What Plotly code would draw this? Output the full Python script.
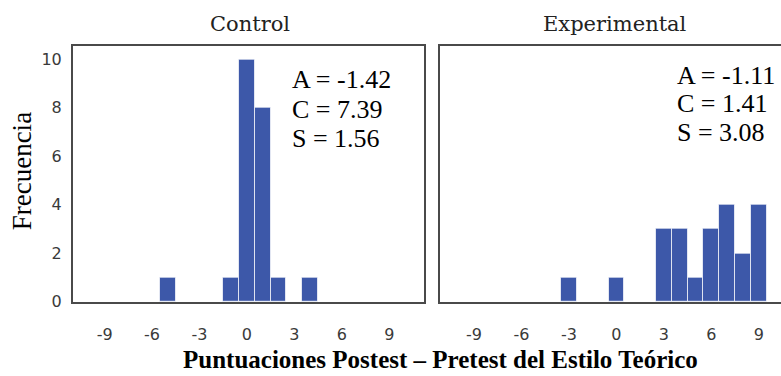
import plotly.graph_objects as go

# ---- data ----
bins_control = [-5, -1, 0, 1, 2, 4]
counts_control = [1, 1, 10, 8, 1, 1]
bins_exp = [-3, 0, 3, 4, 5, 6, 7, 8, 9]
counts_exp = [1, 1, 3, 3, 1, 3, 4, 2, 4]
x_ticks = [-9, -6, -3, 0, 3, 6, 9]
y_ticks = [0, 2, 4, 6, 8, 10]
panel_titles = ["Control", "Experimental"]
stats_control = ["A = -1.42", "C = 7.39", "S = 1.56"]
stats_exp = ["A = -1.11", "C = 1.41", "S = 3.08"]
x_title = "Puntuaciones Postest – Pretest del Estilo Teórico"
y_title = "Frecuencia"

W, H = 781, 376
BAR = "#3D58A9"
FRAME = "#4a4a4a"

def px_x(p):
    return p / W

def px_y(p):
    return 1 - p / H

fig = go.Figure()
fig.add_trace(go.Bar(x=bins_control, y=counts_control, width=1, xaxis="x", yaxis="y",
                     marker=dict(color=BAR, line=dict(color="rgba(255,255,255,0.7)", width=1))))
fig.add_trace(go.Bar(x=bins_exp, y=counts_exp, width=1, xaxis="x2", yaxis="y2",
                     marker=dict(color=BAR, line=dict(color="rgba(255,255,255,0.7)", width=1))))

tickfont = dict(family="DejaVu Sans", size=16, color="#3a3a3a")
ydom = [px_y(310), px_y(47)]

common_x = dict(tickvals=x_ticks, ticktext=[str(v) for v in x_ticks], showgrid=False, zeroline=False,
                showline=True, linecolor=FRAME, linewidth=2, mirror=True,
                ticks="outside", ticklen=14, tickcolor="rgba(0,0,0,0)", tickfont=tickfont,
                ticklabelstandoff=3)

fig.update_layout(
    width=W, height=H, margin=dict(l=0, r=0, t=0, b=0),
    plot_bgcolor="white", paper_bgcolor="white", showlegend=False, bargap=0,
    xaxis=dict(domain=[px_x(73), px_x(424)], range=[-11.0, 11.2], anchor="y", **common_x),
    yaxis=dict(domain=ydom, range=[0, 10.56], anchor="x", tickvals=y_ticks,
               showgrid=False, zeroline=False, showline=True, linecolor=FRAME, linewidth=2, mirror=True,
               ticks="outside", ticklen=6, tickcolor="rgba(0,0,0,0)", tickfont=tickfont),
    xaxis2=dict(domain=[px_x(440), 1.0], range=[-11.15, 10.4], anchor="y2", **common_x),
    yaxis2=dict(domain=ydom, range=[0, 10.56], anchor="x2", showticklabels=False,
                showgrid=False, zeroline=False, showline=True, linecolor=FRAME, linewidth=2, mirror=False,
                ticks=""),
)

ann = []
title_font = dict(family="DejaVu Serif", size=21, color="#222")
ann.append(dict(text=panel_titles[0], x=px_x(250), y=px_y(25), xref="paper", yref="paper",
                xanchor="center", yanchor="middle", showarrow=False, font=title_font))
ann.append(dict(text=panel_titles[1], x=px_x(615), y=px_y(25), xref="paper", yref="paper",
                xanchor="center", yanchor="middle", showarrow=False, font=title_font))

stat_font = dict(family="Liberation Serif", size=26, color="black")
for txt, yc in zip(stats_control, [79.5, 110.5, 140.5]):
    ann.append(dict(text=txt, x=px_x(290), y=px_y(yc + 2), xref="paper", yref="paper",
                    xanchor="left", yanchor="middle", showarrow=False, font=stat_font))
for txt, yc in zip(stats_exp, [76, 104.5, 134]):
    ann.append(dict(text=txt, x=px_x(675), y=px_y(yc + 2), xref="paper", yref="paper",
                    xanchor="left", yanchor="middle", showarrow=False, font=stat_font))

ann.append(dict(text="<b>" + x_title + "</b>", x=px_x(440), y=px_y(369), xref="paper", yref="paper",
                xanchor="center", yanchor="middle", showarrow=False,
                font=dict(family="Liberation Serif", size=25, color="black")))
ann.append(dict(text=y_title, x=px_x(22), y=px_y(176), xref="paper", yref="paper",
                xanchor="center", yanchor="middle", showarrow=False, textangle=-90,
                font=dict(family="Liberation Serif", size=27, color="black")))
fig.update_layout(annotations=ann)

fig.write_html("out.html")
